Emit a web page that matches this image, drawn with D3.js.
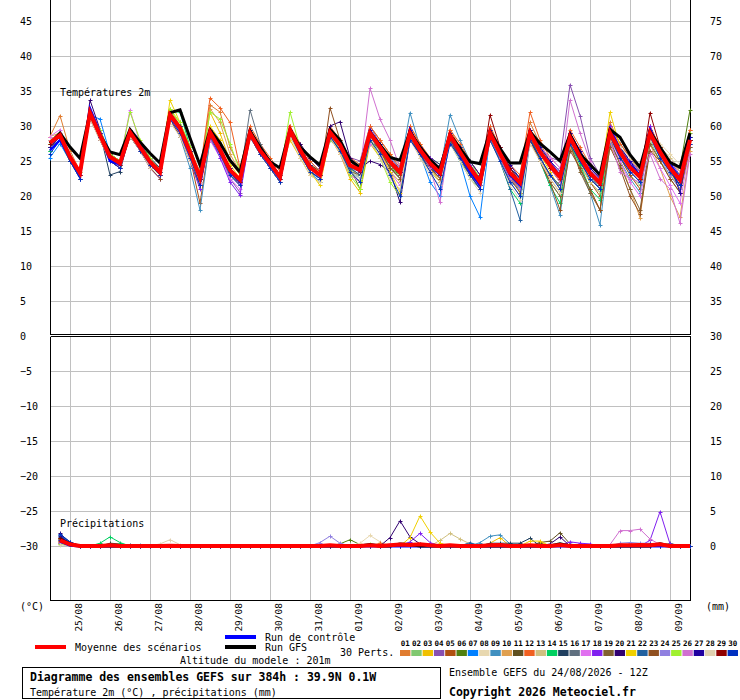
<!DOCTYPE html>
<html>
<head>
<meta charset="utf-8">
<script src="https://cdn.jsdelivr.net/npm/d3@7"></script>
<style>
  body { margin: 0; background: #fff; }
  svg text { font-family: "DejaVu Sans Mono", monospace; font-size: 10px; fill: #000; }
  .grid line { stroke: #c0c0c0; }
  .grid .domain { display: none; }
</style>
</head>
<body>
<svg id="chart" width="740" height="700"></svg>
<script>
/** GEFS ensemble diagram (2m temperature + precipitation) */

// Time axis: 6-hourly steps from 24/08 12Z, 0..384h
var hours = d3.range(0, 385, 6);
var precipHours = d3.range(6, 385, 6);
var dayHours = [12, 36, 60, 84, 108, 132, 156, 180, 204, 228, 252, 276, 300, 324, 348, 372];
var dayLabels = ['25/08', '26/08', '27/08', '28/08', '29/08', '30/08', '31/08', '01/09',
  '02/09', '03/09', '04/09', '05/09', '06/09', '07/09', '08/09', '09/09'];

var tempTicksTop = [5, 10, 15, 20, 25, 30, 35, 40, 45];
var tempTicksBottom = [0, -5, -10, -15, -20, -25, -30];
var rightTicksTop = [35, 40, 45, 50, 55, 60, 65, 70, 75];
var rightTicksBottom = [0, 5, 10, 15, 20, 25, 30];

var pertLabels = ['01','02','03','04','05','06','07','08','09','10','11','12','13','14','15',
  '16','17','18','19','20','21','22','23','24','25','26','27','28','29','30'];
var pertColors = ['#e07c30','#80c870','#f0c000','#8850b0','#b05010','#508010','#0080ff','#e8d8b0',
  '#4090c0','#e0a050','#605020','#f06020','#d0c080','#00d060','#204060','#607080','#e070f0',
  '#8020f0','#806030','#300070','#f0d000','#2060a0','#905020','#9080e0','#a0f030','#d070d0',
  '#2000a0','#e0d0b0','#900000','#0030c0'];

// 2m temperature (°C), 65 steps
var tempMean = [27.6, 28.7,25.6,23.3,31.9, 28.7,25.6,24.7,29.1, 27.0,24.9,23.4,31.6, 29.7,26.3,22.6,29.1, 26.6,23.7,22.3,29.0, 26.5,24.7,22.7,29.4, 26.6,24.1,23.0,29.1, 27.3,24.4,23.7,29.0, 27.0,24.9,23.4,29.0, 26.6,24.7,23.3,28.7, 26.3,24.0,22.0,29.0, 26.1,23.3,21.9,29.0, 26.3,24.4,22.7,28.4, 25.6,23.3,21.9,29.0, 26.3,24.1,22.7,29.0, 26.3,24.0,22.3,28.0];
var tempGfs = [27.5, 29.0,27.0,25.4,31.9, 28.7,26.3,25.9,29.5, 27.7,26.1,24.7,31.9, 32.3,28.3,24.4,29.5, 27.6,25.1,23.4,29.3, 27.0,24.9,24.0,29.5, 27.0,25.6,24.4,29.5, 28.0,25.1,24.1,29.0, 27.3,25.5,25.1,29.2, 27.0,25.2,23.8,28.8, 26.8,24.9,24.6,29.2, 26.8,24.7,24.7,29.2, 27.5,26.3,25.0,28.8, 26.0,24.5,23.0,29.5, 28.4,25.9,24.1,29.2, 27.0,24.8,24.1,29.0];
var tempControl = [26.5, 28.0,25.5,23.0,32.5, 29.0,25.0,24.5,29.0, 27.0,25.0,23.5,31.5, 29.5,26.5,22.5,29.0, 26.5,23.5,22.0,29.0, 26.5,24.5,22.5,29.5, 26.5,24.0,23.0,29.5, 27.5,24.5,23.5,29.0, 27.0,25.0,23.5,29.5, 26.5,24.5,23.0,28.5, 26.0,23.5,21.5,29.0, 26.0,23.0,21.5,29.0, 26.5,24.5,23.0,28.5, 25.5,23.5,22.0,29.5, 26.5,24.5,23.0,29.5, 26.5,24.5,22.5,28.5];
var tempPerts = [
  [28.5, 31.5,26.5,23.5,32.0, 29.0,25.5,24.5,29.5, 27.5,25.0,23.0,31.0, 29.0,26.0,23.5,33.0, 32.0,27.0,24.0,29.5, 27.0,25.0,23.0,30.0, 27.0,24.5,23.5,29.5, 27.5,25.0,24.0,30.0, 28.0,26.0,24.5,30.0, 27.5,25.0,23.5,29.5, 27.0,24.5,22.5,29.5, 26.5,24.0,22.5,30.5, 27.5,25.0,23.0,29.0, 26.5,24.0,22.5,30.5, 27.5,25.5,23.5,30.0, 27.0,25.0,23.5,29.5],
  [27.0, 28.0,25.0,23.0,31.5, 28.5,25.5,24.0,28.5, 26.5,24.5,23.5,32.0, 30.5,27.0,22.0,28.5, 26.0,23.0,22.0,28.5, 26.0,24.0,22.0,28.5, 26.0,23.5,22.5,28.0, 26.5,24.0,22.5,28.0, 26.5,24.5,22.5,28.5, 26.0,23.5,22.0,27.5, 25.0,22.5,21.0,28.0, 25.0,22.5,20.5,28.0, 25.0,22.0,20.0,27.0, 24.5,22.0,20.5,28.0, 25.5,23.0,21.5,28.0, 25.0,23.0,21.0,27.0],
  [28.0, 29.0,26.0,23.5,32.0, 29.0,26.0,25.0,29.5, 27.0,25.0,23.5,32.5, 30.0,26.5,23.0,32.0, 29.0,25.0,23.0,29.5, 27.0,25.0,23.0,28.0, 25.5,23.0,22.0,28.5, 26.0,22.5,20.5,27.5, 25.5,23.5,22.0,28.5, 26.0,24.0,22.0,28.0, 26.5,24.5,21.5,29.0, 26.0,23.0,20.5,28.0, 26.0,23.5,21.0,27.5, 25.0,23.0,21.5,28.0, 26.0,23.5,22.0,28.5, 26.5,24.0,22.5,28.5],
  [27.5, 28.5,25.0,23.0,32.0, 28.5,25.0,24.0,29.0, 26.5,24.5,23.0,31.0, 29.5,26.0,22.0,28.5, 26.0,22.5,20.5,28.5, 26.5,24.5,22.5,29.5, 27.5,25.0,23.5,29.5, 28.0,25.5,25.0,30.0, 27.5,25.5,24.0,29.5, 27.0,25.5,24.5,29.0, 26.5,24.0,22.0,29.5, 26.5,24.0,22.5,29.5, 27.0,25.5,25.0,35.9, 31.5,25.5,23.0,29.5, 27.0,24.5,23.5,29.0, 26.5,24.5,22.5,28.5],
  [27.0, 28.5,25.5,23.0,31.5, 28.0,25.0,24.5,29.0, 26.5,24.5,23.0,31.5, 29.0,25.5,19.0,28.0, 26.0,23.5,22.0,28.5, 26.5,24.5,22.5,29.0, 26.5,24.0,23.0,29.0, 27.0,24.0,23.0,28.5, 27.0,24.5,23.0,28.0, 26.0,24.0,23.0,28.5, 26.0,23.5,21.5,28.5, 26.0,23.0,21.0,28.5, 26.0,24.0,22.5,28.0, 25.0,22.0,20.0,28.5, 25.5,23.0,21.0,28.5, 26.0,23.5,21.5,27.5],
  [26.5, 28.0,25.0,23.0,31.0, 28.5,25.5,25.0,29.0, 27.0,25.0,24.0,31.5, 29.5,26.5,22.5,29.0, 26.5,24.0,22.5,29.0, 26.5,25.0,23.0,29.5, 26.5,24.0,23.0,29.0, 27.0,24.0,21.0,28.0, 26.5,24.0,23.0,29.0, 26.0,24.5,23.5,28.0, 25.0,23.0,21.0,28.5, 25.5,22.5,21.0,28.0, 25.5,23.0,21.5,27.5, 25.0,22.5,21.0,28.5, 26.0,24.5,23.5,29.5, 27.0,25.0,24.0,32.3],
  [25.5, 27.5,25.0,22.5,31.5, 31.0,26.0,24.5,28.5, 26.5,24.5,23.0,31.0, 29.0,26.0,22.5,28.5, 26.5,23.5,22.0,29.0, 26.5,24.5,22.0,29.0, 26.0,23.5,22.0,29.0, 26.5,23.5,22.5,28.5, 27.0,25.0,23.0,29.0, 26.0,22.0,20.0,28.0, 25.0,20.0,17.0,28.5, 25.5,22.0,21.0,28.5, 26.0,24.0,22.0,28.0, 25.5,23.0,21.5,29.0, 26.0,24.0,22.5,29.0, 26.0,24.0,22.0,28.0],
  [28.0, 29.0,26.0,23.5,31.5, 28.0,25.0,24.5,29.0, 27.0,24.5,23.5,31.0, 29.0,26.0,23.0,29.0, 26.5,23.5,22.0,28.5, 26.0,24.0,22.5,29.0, 26.5,24.0,23.0,29.0, 27.0,24.5,24.0,29.5, 26.0,24.0,22.5,28.0, 26.5,25.0,23.5,28.5, 25.5,23.5,21.5,28.5, 25.5,22.5,20.5,28.5, 25.0,22.5,20.5,27.0, 24.5,22.5,21.0,29.0, 27.0,25.0,23.5,29.0, 27.5,26.0,24.5,27.0],
  [27.0, 28.0,25.5,23.0,31.5, 28.5,25.5,24.5,29.0, 27.0,25.0,23.0,31.0, 28.5,24.0,18.0,28.0, 26.0,23.0,21.5,28.5, 26.0,24.0,22.0,29.0, 26.0,23.5,22.5,29.0, 27.0,24.0,23.5,29.0, 27.5,25.5,24.0,31.9, 27.0,25.0,23.5,31.6, 28.0,25.0,23.0,30.0, 26.5,23.5,21.5,29.0, 25.0,21.5,17.3,27.0, 24.0,20.5,15.9,27.5, 25.0,22.5,20.5,28.5, 25.5,23.5,21.5,28.0],
  [28.5, 29.0,26.0,23.5,32.0, 29.0,26.0,24.5,29.0, 27.0,25.0,23.5,31.5, 29.5,26.5,23.0,32.5, 30.5,26.0,23.5,29.5, 27.0,25.0,23.0,29.5, 27.0,24.5,23.0,29.5, 27.5,24.5,23.5,29.0, 27.0,24.5,23.0,28.5, 26.0,24.0,23.0,28.0, 25.5,23.5,21.5,29.0, 26.0,23.0,21.0,28.5, 25.5,22.5,20.5,27.0, 24.0,21.0,18.0,27.0, 25.0,21.0,16.9,27.5, 24.0,20.0,17.0,26.5],
  [27.5, 28.5,25.5,23.5,31.5, 28.5,25.5,24.5,29.0, 27.0,25.0,23.5,31.5, 29.5,26.0,22.5,29.0, 26.5,23.5,22.0,29.0, 26.5,24.5,22.5,29.5, 27.0,24.5,23.5,29.0, 27.0,24.5,24.0,29.0, 27.0,25.0,23.0,29.0, 26.5,24.5,23.0,28.5, 26.0,24.0,22.0,29.0, 26.0,23.5,22.0,29.5, 26.5,24.5,23.0,28.5, 25.5,23.0,21.5,29.0, 26.0,24.0,22.5,29.0, 26.5,24.5,22.5,28.0],
  [28.0, 29.0,25.5,23.0,32.0, 29.0,25.5,24.5,29.5, 27.0,25.0,23.5,31.5, 29.5,26.5,23.5,34.0, 32.6,30.5,24.0,30.0, 27.5,25.5,23.5,30.0, 27.5,25.0,23.5,30.0, 28.0,25.5,24.5,30.0, 28.0,26.0,24.0,30.0, 27.5,25.5,24.0,29.5, 27.5,25.0,23.0,30.0, 27.0,24.5,23.0,32.0, 28.0,25.5,24.0,29.5, 27.0,24.5,23.0,30.0, 27.5,25.5,24.0,30.0, 27.0,25.0,23.5,29.5],
  [27.5, 28.5,25.5,23.5,31.5, 28.5,25.5,25.0,28.5, 26.5,24.5,23.0,31.0, 28.5,25.0,21.5,28.5, 26.0,23.0,21.5,28.5, 26.0,24.0,22.0,29.0, 26.0,23.5,22.5,28.5, 26.5,23.0,22.0,28.0, 26.0,23.5,22.0,28.5, 25.5,23.5,22.0,28.0, 25.5,23.0,21.0,28.0, 25.0,22.0,20.0,27.5, 25.5,23.0,21.5,27.5, 24.5,22.0,20.5,28.0, 26.5,25.0,24.0,28.0, 27.0,25.5,24.0,27.0],
  [26.5, 28.0,25.0,23.0,31.5, 28.5,26.0,25.0,29.0, 27.0,25.0,23.5,32.0, 32.0,27.0,22.5,29.0, 26.5,24.0,22.5,29.5, 27.0,25.0,23.0,29.5, 26.5,24.0,23.0,29.0, 27.0,24.5,23.5,29.0, 27.0,25.0,23.5,29.0, 26.5,24.5,23.0,28.5, 26.0,23.5,21.5,28.5, 25.0,21.0,19.0,29.0, 25.0,21.5,19.0,27.5, 24.5,21.0,19.5,28.5, 26.0,24.0,22.5,29.5, 26.5,24.5,23.0,28.5],
  [27.0, 28.5,25.5,23.0,32.0, 29.0,23.0,23.5,29.0, 27.5,25.5,24.0,31.5, 29.5,26.5,22.5,29.5, 27.0,24.0,22.5,29.0, 26.5,24.5,22.5,29.5, 26.5,24.0,23.0,29.5, 27.5,25.0,24.0,29.0, 27.0,25.0,24.0,29.5, 27.0,25.5,24.5,29.0, 26.5,24.5,22.5,29.0, 26.5,24.0,22.5,29.0, 26.5,24.5,22.5,28.5, 26.0,23.5,22.0,29.5, 26.5,24.5,22.5,29.0, 26.0,24.0,22.0,28.0],
  [27.5, 28.5,25.5,23.5,31.5, 28.5,25.0,24.0,29.0, 27.0,24.5,23.0,31.5, 29.5,26.5,23.0,29.5, 27.0,24.0,22.5,32.3, 27.5,25.0,23.0,29.5, 26.5,24.0,23.0,29.0, 27.0,24.5,23.5,29.0, 27.0,24.5,23.0,28.5, 26.5,24.5,23.0,28.5, 26.0,23.5,22.0,29.0, 26.0,23.5,21.5,29.0, 26.0,24.0,22.0,28.0, 25.5,23.0,21.0,29.0, 26.5,24.0,22.5,29.0, 26.5,24.5,22.5,28.0],
  [28.5, 29.5,26.0,23.5,31.5, 28.5,25.5,25.0,32.3, 27.5,25.0,23.5,31.0, 29.0,25.5,22.0,28.0, 25.5,22.5,21.0,28.5, 26.0,24.0,22.5,29.5, 26.5,24.0,22.5,28.5, 26.0,23.0,22.0,27.5, 26.0,23.5,21.5,28.0, 26.0,24.0,22.5,28.0, 25.5,23.0,21.0,28.5, 26.0,23.0,21.5,28.5, 27.0,25.5,24.0,28.5, 26.0,24.5,23.0,28.5, 25.0,22.0,20.0,26.5, 24.0,21.5,19.0,27.0],
  [27.0, 28.5,25.5,23.0,31.5, 28.0,25.0,24.0,28.5, 26.5,24.0,22.5,31.0, 29.0,25.0,21.0,28.5, 25.5,22.0,20.1,28.5, 26.0,24.0,22.0,29.0, 26.5,24.0,23.0,29.0, 27.0,24.5,23.5,29.5, 27.0,25.0,23.5,29.5, 27.0,25.5,24.0,29.0, 26.5,24.5,22.5,29.5, 26.5,24.0,22.0,29.5, 26.5,25.0,23.0,29.0, 26.5,24.0,22.5,30.0, 27.0,25.0,23.5,30.0, 26.5,25.0,23.0,29.0],
  [27.5, 28.5,25.5,23.5,31.5, 29.0,26.0,25.0,29.5, 27.0,25.0,23.5,31.5, 29.5,26.0,22.0,29.0, 26.5,23.5,22.0,29.0, 26.5,24.5,22.5,29.0, 26.0,23.5,22.5,28.5, 26.5,23.5,23.0,28.5, 26.5,24.5,23.0,28.5, 26.0,24.0,22.5,28.0, 25.5,23.5,21.5,28.5, 25.5,22.5,21.0,28.5, 25.0,22.0,20.0,27.5, 23.5,20.5,18.0,28.0, 24.5,21.0,18.0,27.5, 25.0,22.5,20.5,27.0],
  [27.5, 28.5,25.5,23.0,33.7, 29.5,26.0,24.5,29.5, 27.5,25.0,23.0,32.0, 30.0,26.5,22.5,29.5, 27.0,24.0,22.5,29.5, 26.5,24.0,22.5,29.0, 27.5,25.5,24.0,30.0, 30.6,25.5,24.0,25.0, 24.5,23.5,19.1,28.0, 26.0,24.5,23.0,28.5, 26.0,24.0,22.5,29.0, 26.0,23.5,22.0,29.0, 26.5,24.5,23.0,28.5, 26.0,23.5,22.0,29.0, 26.0,24.0,22.5,29.0, 26.0,24.0,21.5,28.0],
  [27.5, 28.5,25.5,23.5,31.5, 28.5,25.5,24.5,29.0, 27.0,25.0,23.5,33.7, 30.5,27.0,23.0,30.0, 28.0,24.5,22.5,29.0, 27.0,25.0,23.0,29.0, 26.0,23.5,21.5,28.5, 26.0,23.5,22.0,28.5, 26.5,23.5,20.5,28.5, 26.5,24.5,23.0,28.5, 26.0,24.0,22.0,29.0, 26.0,23.0,21.5,29.0, 26.0,24.0,22.0,28.5, 26.0,23.5,22.0,32.0, 27.0,24.5,22.5,29.0, 26.0,23.5,21.0,27.5],
  [27.0, 28.5,25.5,23.0,32.0, 28.5,25.5,24.5,29.0, 27.0,24.5,23.0,31.5, 29.5,26.0,21.5,28.5, 26.0,23.0,21.5,28.5, 26.0,24.0,22.0,29.0, 26.0,23.5,22.5,28.5, 26.5,24.0,23.0,28.5, 26.5,24.0,22.5,28.5, 26.0,24.0,23.0,28.0, 25.5,23.0,21.5,28.5, 25.0,21.0,16.6,28.0, 25.5,23.0,21.5,28.0, 25.0,22.5,21.0,28.5, 25.5,23.5,22.0,28.5, 25.5,23.5,21.5,27.5],
  [27.0, 28.0,25.0,23.0,31.0, 28.0,25.0,24.0,28.5, 26.5,24.0,22.5,31.0, 28.5,25.0,21.5,29.0, 26.5,23.5,21.5,28.5, 26.0,24.0,22.0,29.0, 26.5,24.0,22.5,32.6, 28.0,25.0,23.5,29.0, 26.5,24.0,22.5,28.5, 26.0,24.0,22.5,28.0, 25.5,23.0,21.0,28.5, 25.5,22.5,20.5,28.0, 25.0,22.0,18.0,26.5, 24.0,21.0,18.0,27.0, 24.0,20.0,17.5,26.5, 25.0,22.5,20.5,27.5],
  [28.0, 29.0,26.0,23.5,31.5, 28.5,25.5,24.5,29.0, 27.0,25.0,23.5,31.5, 29.5,26.0,22.5,29.0, 26.5,23.5,22.0,29.0, 26.5,24.5,22.5,29.5, 27.0,24.5,23.0,29.5, 27.5,25.0,24.0,29.5, 27.5,25.5,24.0,29.5, 27.0,25.0,23.5,29.0, 26.5,24.0,22.0,29.5, 26.0,23.5,21.5,29.0, 26.0,24.0,22.5,28.5, 25.5,23.0,21.5,29.0, 26.0,23.5,22.0,28.5, 25.5,23.0,21.0,27.5],
  [27.5, 29.0,26.0,23.5,32.0, 29.5,26.0,25.0,32.0, 28.0,25.5,23.5,32.5, 30.5,27.0,23.0,32.0, 31.0,27.5,23.5,29.5, 27.0,25.0,23.0,32.0, 27.0,24.5,23.0,29.0, 26.5,23.0,21.0,28.0, 25.5,22.0,20.0,28.5, 26.5,24.5,23.0,29.0, 27.0,25.0,22.5,29.5, 26.5,23.5,22.0,29.5, 27.0,24.5,22.5,28.5, 26.0,23.5,22.0,29.5, 26.5,24.5,23.0,29.5, 26.5,24.5,22.5,29.0],
  [28.0, 29.0,25.5,23.0,31.5, 29.0,25.5,24.0,29.5, 27.0,24.5,23.0,31.0, 29.0,26.0,22.0,28.5, 26.0,23.0,21.5,28.5, 26.5,24.5,22.5,29.0, 26.5,24.0,22.5,29.0, 27.0,24.5,23.5,35.4, 31.0,28.0,24.0,29.0, 26.5,24.0,19.1,28.5, 26.0,23.5,21.5,28.5, 25.5,22.5,21.0,28.5, 26.5,24.0,22.0,33.7, 29.0,25.0,22.5,28.0, 23.5,22.5,22.0,26.0, 22.5,21.0,16.1,26.0],
  [27.0, 28.5,25.0,22.5,31.5, 29.0,25.5,24.5,29.0, 27.0,25.0,23.5,31.5, 30.0,26.5,22.5,29.0, 27.0,24.0,22.5,29.5, 27.0,25.0,23.0,29.5, 27.0,24.5,23.0,29.5, 27.5,25.0,24.0,29.5, 27.5,25.0,23.5,29.5, 27.0,25.0,23.5,29.0, 27.0,25.0,23.0,29.5, 27.0,24.5,22.5,29.5, 27.0,25.0,23.5,29.0, 26.5,24.0,22.5,29.5, 27.0,25.0,23.0,29.5, 26.5,24.5,20.5,28.5],
  [28.0, 29.0,26.0,23.5,31.0, 28.0,25.0,24.5,28.5, 26.5,24.0,23.0,30.5, 28.5,25.0,22.0,28.5, 26.0,23.0,21.5,28.5, 26.0,24.0,22.0,28.5, 25.5,23.0,22.0,28.5, 26.0,23.5,22.5,28.5, 25.5,22.5,21.0,28.0, 25.5,23.0,21.5,27.5, 25.0,22.5,20.5,28.0, 25.0,21.5,19.5,27.5, 25.0,22.5,20.5,27.5, 25.5,23.0,21.5,28.0, 27.0,25.5,24.0,28.0, 26.5,25.0,23.5,27.5],
  [27.5, 28.5,25.5,23.0,31.5, 28.5,25.5,24.5,29.0, 27.0,24.5,23.0,31.5, 29.5,26.0,22.5,29.0, 26.5,23.5,22.0,29.0, 26.5,24.5,22.5,29.5, 26.5,24.0,23.0,29.0, 27.0,24.5,23.5,29.0, 27.0,25.0,23.5,29.0, 26.5,24.5,23.0,28.5, 26.5,24.0,22.5,31.6, 27.0,24.0,22.0,29.0, 26.5,24.0,22.5,28.5, 25.5,23.0,21.5,29.0, 26.5,24.0,22.5,31.9, 27.0,24.5,22.5,28.0],
  [26.0, 28.0,25.0,22.5,31.5, 28.5,25.0,24.0,29.0, 26.5,24.5,23.0,31.0, 29.0,25.5,21.5,28.5, 26.0,23.0,21.5,28.5, 26.0,24.0,22.0,29.0, 26.0,23.5,22.5,28.5, 26.5,23.5,22.0,28.0, 26.0,23.0,20.0,28.0, 26.0,23.5,21.0,27.5, 25.5,23.0,21.0,28.0, 25.0,22.0,20.0,28.0, 25.5,23.0,21.0,27.5, 25.0,22.5,21.0,28.5, 25.5,23.5,22.0,28.5, 25.5,23.5,21.5,27.5]
];

// Precipitation (mm), 64 steps from +6h
var precipMean = [.8,.25,0,0,0,.1,0,0, 0,0,0,.05,0,0,0,0, 0,0,0,0,0,0,0,0, 0,0,0,.1,0,0,0,.1, 0,.1,.2,.15,.25,.1,0,.1, 0,0,0,.1,.15,0,0,.1, 0,0,.15,0,0,0,0,0, .1,.1,.15,.1,.25,0,0,0];
var precipGfs = [.9,.3,0,0,0,0,0,0, 0,0,0,0,0,0,0,0, 0,0,0,0,0,0,0,0, 0,0,0,0,0,0,0,.2, 0,0,.3,.2,0,0,0,0, 0,0,0,0,0,0,0,0, 0,0,.3,0,0,0,0,0, 0,0,0,0,.3,0,0,0];
var precipControl = [.7,.1,0,0,0,0,0,0, 0,0,0,0,0,0,0,0, 0,0,0,0,0,0,0,0, 0,0,0,0,0,0,0,0, 0,0,0,0,0,0,0,0, 0,0,0,0,0,0,0,0, 0,0,0,0,0,0,0,0, 0,0,0,0,0,0,0,0];
var precipPerts = [
  [.8,.2,0,0,0,0,0,0, 0,0,0,0,0,0,0,0, 0,0,0,0,0,0,0,0, 0,0,0,0,0,0,0,0, 0,0,0,0,0,0,0,0, 0,0,0,0,0,0,0,0, .5,0,0,0,0,0,0,0, 0,0,0,0,0,0,0,0],
  [.5,.1,0,0,0,0,0,0, 0,0,0,0,0,0,0,0, 0,0,0,0,0,0,0,0, 0,0,0,0,0,0,0,0, 0,0,0,0,0,0,0,0, 0,0,0,0,0,0,0,0, 0,0,0,0,0,0,0,0, 0,0,0,0,0,0,0,0],
  [.6,0,0,0,0,0,0,0, 0,0,0,0,0,0,0,0, 0,0,0,0,0,0,0,0, 0,0,0,0,0,0,0,0, 0,0,0,0,0,0,0,0, 0,0,0,.4,1.2,0,0,0, 0,0,0,0,0,0,0,0, 0,0,0,0,0,0,0,0],
  [1.0,.3,0,0,0,.3,0,0, 0,0,0,0,0,0,0,0, 0,0,0,0,0,0,0,0, 0,0,0,0,0,0,0,0, 0,0,0,0,0,0,0,0, 0,0,0,0,0,0,0,0, 0,0,0,0,0,0,0,0, 0,0,0,0,0,0,0,0],
  [1.2,.4,0,0,0,0,0,0, 0,0,0,0,0,0,0,0, 0,0,0,0,0,0,0,0, 0,0,0,0,0,0,0,0, 0,0,0,0,0,0,0,0, 0,0,0,0,0,0,0,0, 0,0,0,0,0,0,0,0, 0,0,0,0,0,0,0,0],
  [.4,0,0,0,0,0,0,0, 0,0,0,0,0,0,0,0, 0,0,0,0,0,0,0,0, 0,0,0,0,.3,.9,.2,0, 0,0,0,0,0,0,0,0, 0,0,0,0,0,0,0,0, 0,0,0,0,0,0,0,0, 0,0,0,0,0,0,0,0],
  [1.5,.6,0,0,0,0,0,0, 0,0,0,0,0,0,0,0, 0,0,0,0,0,0,0,0, 0,0,0,0,0,0,0,0, 0,0,0,0,0,0,0,0, 0,0,0,0,0,0,0,0, 0,0,0,0,0,0,0,0, 0,0,0,0,0,0,0,0],
  [.3,0,0,0,0,0,0,0, 0,0,0,0,0,0,0,0, 0,0,0,0,0,0,0,0, 0,0,0,0,0,0,.4,1.5, .6,0,0,0,0,0,0,0, 0,0,0,0,0,0,0,0, 0,0,0,0,0,0,0,0, 0,0,0,0,0,0,0,0],
  [.9,.2,0,0,0,0,0,0, .2,0,0,0,0,0,0,0, 0,0,0,0,0,0,0,0, 0,0,0,0,0,0,0,0, 0,0,0,0,0,0,0,0, 0,0,.5,1.4,1.6,.3,0,0, 0,0,0,0,0,0,0,0, 0,0,0,0,0,0,0,0],
  [.7,.1,0,0,0,0,0,0, 0,0,0,0,0,0,0,0, 0,0,0,0,0,0,0,0, 0,0,0,0,0,0,0,0, 0,0,0,0,0,0,0,0, 0,0,0,0,0,0,0,0, 0,0,0,0,0,0,0,0, 0,0,0,0,0,0,0,0],
  [1.1,.3,0,0,0,.4,.3,0, 0,0,0,0,0,0,0,0, 0,0,0,0,0,0,0,0, 0,0,0,0,0,0,0,0, 0,0,0,0,0,0,0,0, 0,0,0,0,0,0,0,0, .5,.7,1.9,.3,0,0,0,0, 0,0,0,0,0,0,0,0],
  [.6,.2,0,0,0,0,0,0, 0,0,0,0,0,0,0,0, 0,0,0,0,0,0,0,0, 0,0,0,0,0,0,0,0, .4,0,0,0,0,0,0,0, 0,0,0,0,0,0,0,0, 0,0,0,0,0,0,0,0, 0,0,0,0,0,0,0,0],
  [.4,0,0,0,0,0,0,0, 0,0,0,0,0,0,0,0, 0,0,0,0,0,0,0,0, 0,0,0,0,0,0,0,0, 0,0,0,0,0,0,.8,1.8, 1.0,.3,0,0,0,0,0,0, 0,0,0,0,0,0,0,0, 0,0,0,0,0,0,0,0],
  [.8,.3,0,0,.4,1.3,.5,0, 0,0,0,0,0,0,0,0, 0,0,0,0,0,0,0,0, 0,0,0,0,0,0,0,0, 0,0,0,0,0,0,0,0, 0,0,0,0,0,0,0,0, 0,0,0,0,0,0,0,0, 0,0,0,0,0,0,0,0],
  [1.3,.4,0,0,0,.3,.2,.2, 0,0,0,0,0,0,0,0, 0,0,0,0,0,0,0,0, 0,0,0,0,0,0,0,0, 0,0,0,0,0,0,0,0, 0,0,0,.4,.4,.4,.4,1.1, 0,0,0,0,0,0,0,0, 0,0,0,0,0,0,0,0],
  [.5,.1,0,0,0,0,0,0, 0,0,0,0,0,0,0,0, 0,0,0,0,0,0,0,0, 0,0,0,0,0,0,0,0, 0,0,0,0,0,0,0,0, 0,0,0,0,0,0,0,0, 0,0,0,0,0,0,0,0, 0,0,0,0,0,.4,0,0],
  [.3,0,0,0,0,0,0,0, 0,0,0,0,0,0,0,0, 0,0,0,0,0,0,0,0, 0,0,0,0,0,0,0,0, 0,.3,0,0,0,0,0,0, 0,0,0,0,0,0,0,0, 0,0,0,0,0,0,0,0, 0,0,0,0,0,0,0,0],
  [.9,.2,0,0,0,0,0,0, 0,0,0,0,0,0,0,0, 0,0,0,0,0,0,0,0, 0,0,0,0,0,0,0,0, 0,0,0,.6,1.8,.5,0,0, 0,0,0,0,0,0,0,0, 0,0,0,.6,.4,.3,0,0, 0,0,0,.8,4.9,.3,0,0],
  [1.0,.3,0,0,0,0,0,0, 0,0,0,0,0,0,0,0, 0,0,0,0,0,0,0,0, 0,0,0,0,0,0,0,0, 0,0,0,0,0,0,0,0, 0,0,0,0,0,0,0,0, 0,0,0,0,0,0,0,0, 0,0,0,0,0,0,0,0],
  [1.8,.5,0,0,0,0,0,0, 0,0,0,0,0,0,0,0, 0,0,0,0,0,0,0,0, 0,0,0,0,0,0,0,0, 0,1.2,3.6,1.3,.3,0,0,0, 0,0,0,0,0,0,0,0, 0,.3,1.3,0,0,0,0,0, 0,0,0,0,0,0,0,0],
  [.4,0,0,0,0,0,0,0, 0,0,0,0,0,0,0,0, 0,0,0,0,0,0,0,0, 0,0,0,0,0,0,0,0, 0,0,0,1.2,4.3,2.0,.4,0, 0,0,0,0,0,0,0,.7, .7,0,0,0,0,0,0,0, 0,0,0,0,0,0,0,0],
  [1.6,.5,0,0,0,0,0,0, 0,0,0,0,0,0,0,0, 0,0,0,0,0,0,0,0, 0,0,0,0,0,0,0,0, 0,0,0,0,0,0,0,0, 0,.5,0,0,0,0,0,0, 0,0,0,0,0,0,0,0, 0,0,0,0,0,0,0,0],
  [.7,.2,0,0,0,0,0,0, 0,0,0,0,0,0,0,0, 0,0,0,0,0,0,0,0, 0,0,0,0,0,0,0,0, 0,0,0,0,0,0,0,0, 0,0,0,0,0,0,0,0, 0,0,0,0,0,0,0,0, 0,0,0,0,0,0,0,0],
  [.5,.1,0,0,0,0,0,0, 0,0,0,0,0,0,0,0, 0,0,0,0,0,0,0,0, 0,0,.5,1.4,.4,0,0,0, 0,0,0,0,0,0,0,0, 0,0,0,0,0,0,0,0, 0,0,0,0,0,0,0,0, .4,.5,.4,.4,0,0,0,0],
  [.3,0,0,0,0,0,0,0, 0,0,0,0,0,0,0,0, 0,0,0,0,0,0,0,0, 0,0,0,0,0,0,0,.3, 0,0,0,0,0,0,0,0, 0,0,0,0,0,0,0,0, 0,0,0,0,0,0,0,0, 0,0,0,0,0,0,0,0],
  [.6,.2,0,0,0,0,0,0, 0,0,0,0,0,0,0,0, 0,0,0,0,0,0,0,0, 0,0,0,0,0,0,0,0, 0,0,0,0,0,0,0,0, 0,0,0,0,0,0,0,0, 0,0,0,0,0,0,0,.2, 2.2,2.2,2.4,1.0,.2,0,0,0],
  [1.4,.4,0,0,0,0,0,0, 0,0,0,0,0,0,0,0, 0,0,0,0,0,0,0,0, 0,0,0,0,0,0,0,0, 0,0,0,0,0,0,0,0, 0,0,0,0,0,0,0,0, 0,0,0,0,0,0,0,0, 0,0,0,.3,0,0,0,0],
  [.2,0,0,0,0,0,0,0, 0,0,.3,.9,.2,0,0,0, 0,0,0,0,0,0,0,0, 0,0,0,0,0,0,0,0, 0,0,0,0,0,0,0,0, 0,0,0,0,0,0,0,0, 0,0,0,0,0,0,0,0, 0,0,0,0,0,0,0,0],
  [1.2,.3,0,0,0,0,0,0, 0,0,0,0,0,0,0,0, 0,0,0,0,0,0,0,0, 0,0,0,0,0,0,0,0, 0,0,0,0,0,0,0,0, 0,0,0,0,0,0,0,0, 0,0,0,0,0,0,0,0, 0,0,0,0,0,0,0,0],
  [1.7,.6,0,0,0,0,0,0, 0,0,0,0,0,0,0,0, 0,0,0,0,0,0,0,0, 0,0,0,0,0,0,0,0, 0,0,0,0,0,0,0,0, 0,0,0,0,0,0,0,0, 0,0,0,0,0,0,0,0, 0,0,0,0,0,0,0,0]
];

var svg = d3.select('#chart');

// Scales: both panels share the same px/°C; right axis = left + 30
var x = d3.scaleLinear().domain([0, 384]).range([50, 690]);
var yT = d3.scaleLinear().domain([0, 45]).range([336, 21]);
var yR = d3.scaleLinear().domain([30, 75]).range([336, 21]);
var yP = d3.scaleLinear().domain([0, 30]).range([546, 336]);

function styleAxis(g) {
  g.attr('font-family', null).attr('font-size', null).attr('class', 'grid');
}

// Vertical grid, top panel
svg.append('g').attr('transform', 'translate(0,334)')
  .call(d3.axisBottom(x).tickValues(dayHours).tickSize(-334).tickFormat(''))
  .call(styleAxis);

// Vertical grid + date labels, bottom panel
var xAx = svg.append('g').attr('transform', 'translate(0,600)')
  .call(d3.axisBottom(x).tickValues(dayHours).tickSize(-264).tickFormat(function(d, i) { return dayLabels[i]; }))
  .call(styleAxis);
xAx.selectAll('text').attr('y', 0).attr('dy', null).attr('x', 0)
  .attr('transform', 'translate(11,3) rotate(-90)').style('text-anchor', 'end').style('font-size', '9.5px');

// Horizontal grid + left labels
[tempTicksTop, tempTicksBottom].forEach(function(tv) {
  var g = svg.append('g').attr('transform', 'translate(50,0)')
    .call(d3.axisLeft(yT).tickValues(tv).tickSize(-640))
    .call(styleAxis);
  g.selectAll('text').attr('x', -30).style('text-anchor', 'start');
});

// Right labels
svg.append('g').attr('transform', 'translate(690,0)')
  .call(d3.axisRight(yR).tickValues(rightTicksTop).tickSize(0))
  .call(styleAxis)
  .selectAll('text').attr('x', 20).style('text-anchor', 'start');
svg.append('g').attr('transform', 'translate(690,0)')
  .call(d3.axisRight(yP).tickValues(rightTicksBottom).tickSize(0))
  .call(styleAxis)
  .selectAll('text').attr('x', 20).style('text-anchor', 'start');

// Panel frames
var frame = svg.append('g').attr('stroke', '#000').attr('stroke-width', 1).attr('shape-rendering', 'crispEdges');
frame.append('line').attr('x1', 50.5).attr('x2', 50.5).attr('y1', 0).attr('y2', 334.5);
frame.append('line').attr('x1', 690.5).attr('x2', 690.5).attr('y1', 0).attr('y2', 334.5);
frame.append('line').attr('x1', 50.5).attr('x2', 690.5).attr('y1', 334.5).attr('y2', 334.5);
frame.append('line').attr('x1', 50.5).attr('x2', 690.5).attr('y1', 336.5).attr('y2', 336.5);
frame.append('line').attr('x1', 50.5).attr('x2', 50.5).attr('y1', 336.5).attr('y2', 600.5);
frame.append('line').attr('x1', 690.5).attr('x2', 690.5).attr('y1', 336.5).attr('y2', 600.5);
frame.append('line').attr('x1', 50.5).attr('x2', 690.5).attr('y1', 600.5).attr('y2', 600.5);

// Panel titles
svg.append('text').attr('x', 60).attr('y', 96).text('Températures 2m');
svg.append('text').attr('x', 60).attr('y', 527).text('Précipitations');
svg.append('text').attr('x', 20).attr('y', 610).text('(°C)');
svg.append('text').attr('x', 706).attr('y', 610).text('(mm)');

// Series
var tLine = d3.line().x(function(d, i) { return x(hours[i]); }).y(function(d) { return yT(d); });
var pLine = d3.line().x(function(d, i) { return x(precipHours[i]); }).y(function(d) { return yP(d); });

function crosses(vals, hrs, ys) {
  var p = '';
  vals.forEach(function(v, i) {
    var cx = Math.round(x(hrs[i])) + 0.5, cy = Math.round(ys(v)) + 0.5;
    p += 'M' + (cx - 2) + ',' + cy + 'h4M' + cx + ',' + (cy - 2) + 'v4';
  });
  return p;
}

var series = svg.append('g').attr('fill', 'none');

tempPerts.forEach(function(vals, k) {
  series.append('path').attr('d', tLine(vals)).attr('stroke', pertColors[k]).attr('stroke-width', 1);
  series.append('path').attr('d', crosses(vals, hours, yT)).attr('stroke', pertColors[k]).attr('stroke-width', 1);
});
precipPerts.forEach(function(vals, k) {
  series.append('path').attr('d', pLine(vals)).attr('stroke', pertColors[k]).attr('stroke-width', 1);
  series.append('path').attr('d', crosses(vals, precipHours, yP)).attr('stroke', pertColors[k]).attr('stroke-width', 1);
});

// Control, GFS and mean on top
series.append('path').attr('d', tLine(tempControl)).attr('stroke', '#0000ff').attr('stroke-width', 2.5);
series.append('path').attr('d', pLine(precipControl)).attr('stroke', '#0000ff').attr('stroke-width', 3);
series.append('path').attr('d', tLine(tempGfs)).attr('stroke', '#000').attr('stroke-width', 3);
series.append('path').attr('d', pLine(precipGfs)).attr('stroke', '#000').attr('stroke-width', 3);
series.append('path').attr('d', tLine(tempMean)).attr('stroke', '#ff0000').attr('stroke-width', 4);
series.append('path').attr('d', pLine(precipMean)).attr('stroke', '#ff0000').attr('stroke-width', 4);

// Legend
var leg = svg.append('g');
leg.append('line').attr('x1', 35).attr('x2', 66).attr('y1', 647).attr('y2', 647).attr('stroke', '#ff0000').attr('stroke-width', 4);
leg.append('text').attr('x', 75).attr('y', 651).text('Moyenne des scénarios');
leg.append('line').attr('x1', 225).attr('x2', 256).attr('y1', 637).attr('y2', 637).attr('stroke', '#0000ff').attr('stroke-width', 4);
leg.append('text').attr('x', 265).attr('y', 641).text('Run de contrôle');
leg.append('line').attr('x1', 225).attr('x2', 256).attr('y1', 647).attr('y2', 647).attr('stroke', '#000').attr('stroke-width', 4);
leg.append('text').attr('x', 265).attr('y', 651).text('Run GFS');
leg.append('text').attr('x', 340).attr('y', 656).text('30 Perts.');
leg.append('text').attr('x', 180).attr('y', 664).text('Altitude du modele : 201m');

var sw = d3.scaleBand().domain(pertLabels).range([400, 738]).paddingInner(0.08);
leg.selectAll('rect.sw').data(pertLabels).join('rect').attr('class', 'sw')
  .attr('x', function(d) { return sw(d); }).attr('y', 650)
  .attr('width', sw.bandwidth()).attr('height', 6)
  .attr('fill', function(d, i) { return pertColors[i]; });
leg.selectAll('text.swl').data(pertLabels).join('text').attr('class', 'swl')
  .attr('x', function(d) { return sw(d) + sw.bandwidth() / 2; }).attr('y', 646)
  .style('text-anchor', 'middle').style('font-size', '7.5px').style('font-weight', 'bold')
  .text(function(d) { return d; });

// Title box
svg.append('rect').attr('x', 22.5).attr('y', 667.5).attr('width', 418).attr('height', 31)
  .attr('fill', 'none').attr('stroke', '#000');
svg.append('text').attr('x', 30).attr('y', 681).style('font-weight', 'bold').style('font-size', '11.5px')
  .text('Diagramme des ensembles GEFS sur 384h : 39.9N 0.1W');
svg.append('text').attr('x', 30).attr('y', 696).text('Température 2m (°C) , précipitations (mm)');
svg.append('text').attr('x', 449).attr('y', 676).text('Ensemble GEFS du 24/08/2026 - 12Z');
svg.append('text').attr('x', 449).attr('y', 696).style('font-weight', 'bold').style('font-size', '11.5px')
  .text('Copyright 2026 Meteociel.fr');
</script>
</body>
</html>
